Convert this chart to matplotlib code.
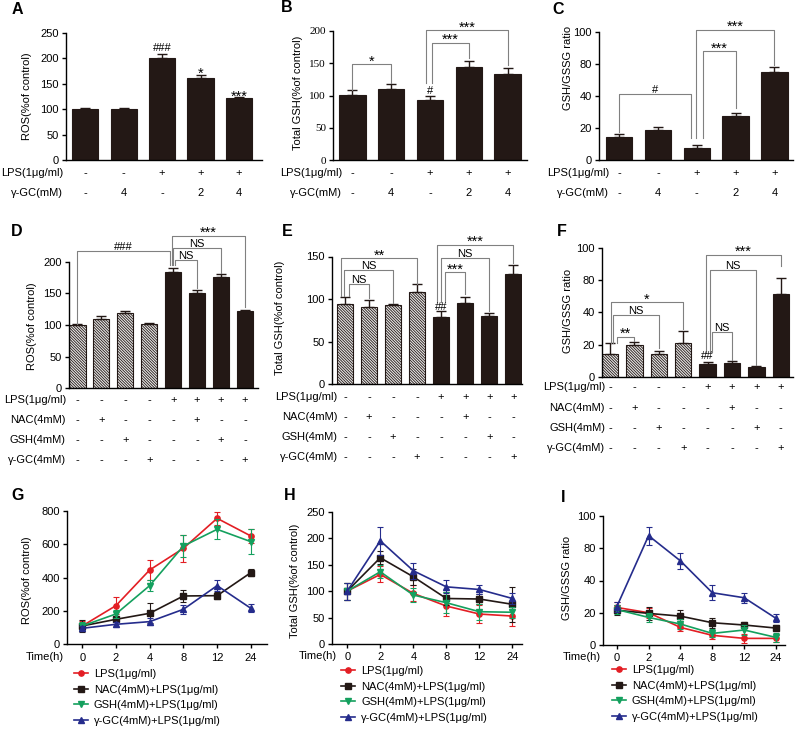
import numpy as np
import matplotlib
matplotlib.use('Agg')
import matplotlib.pyplot as plt
from matplotlib.transforms import blended_transform_factory

# ---- data ----
abc_lps = ['-', '-', '+', '+', '+']
abc_ggc = ['-', '4', '-', '2', '4']
a_ros = [100, 100, 200, 161, 122]
a_err = [1.5, 1.5, 9, 7, 2]
b_gsh = [101, 109.5, 93, 143.5, 133]
b_err = [7.5, 9, 7, 10, 9]
c_ratio = [14.6, 18.8, 7.7, 27.5, 69.6]
c_err = [1.7, 2, 1.7, 2, 7]

def_lps = ['-', '-', '-', '-', '+', '+', '+', '+']
def_nac = ['-', '+', '-', '-', '-', '+', '-', '-']
def_gsh = ['-', '-', '+', '-', '-', '-', '+', '-']
def_ggc = ['-', '-', '-', '+', '-', '-', '-', '+']
d_ros = [100, 109, 118.5, 101.5, 183, 150, 176, 122]
d_err = [1.5, 5, 3, 1, 7.5, 5, 4, 1]
e_gsh = [94, 91, 93, 108, 79, 95, 80.5, 130]
e_err = [8.5, 8.5, 1, 10, 7.5, 7, 3.5, 10]
f_ratio = [14.4, 19.8, 14.2, 20.8, 8.1, 8.5, 6, 63.4]
f_err = [6.4, 1.7, 1.8, 7.8, 1.3, 1, 0.8, 18]

time_labels = ['0', '2', '4', '8', '12', '24']
series_names = ['LPS(1μg/ml)', 'NAC(4mM)+LPS(1μg/ml)',
                'GSH(4mM)+LPS(1μg/ml)', 'γ-GC(4mM)+LPS(1μg/ml)']
g_lps = [110, 232, 446, 576, 756, 650]
g_lps_err = [30, 50, 60, 80, 40, 40]
g_nac = [110, 150, 186, 290, 292, 430]
g_nac_err = [35, 15, 60, 34, 20, 20]
g_gsh = [110, 182, 352, 590, 690, 616]
g_gsh_err = [25, 25, 35, 65, 60, 75]
g_ggc = [96, 120, 136, 210, 352, 216]
g_ggc_err = [15, 15, 20, 28, 35, 25]

h_lps = [100, 131.5, 95.6, 71.7, 56.6, 52.8]
h_lps_err = [16, 15, 15, 18, 17, 19]
h_nac = [100, 163, 127, 86, 85, 75]
h_nac_err = [16, 12, 15, 12, 10, 33]
h_gsh = [100, 136.5, 92.5, 78, 61, 60]
h_gsh_err = [16, 12, 13, 20, 15, 10]
h_ggc = [100, 195, 138.4, 108, 103, 86]
h_ggc_err = [16, 26, 15, 12, 8, 10]

i_lps = [23.3, 20, 10.9, 6, 4.1, 4.1]
i_lps_err = [3.5, 3, 2, 2, 3, 2]
i_nac = [21.6, 19.6, 17.9, 13.8, 12.4, 10.5]
i_nac_err = [3, 4, 4, 3, 2, 2]
i_gsh = [22, 17.1, 13, 7.2, 9.3, 4.7]
i_gsh_err = [3, 3, 3, 2.5, 3, 3]
i_ggc = [23.7, 87.8, 64.3, 32.4, 29.3, 16.5]
i_ggc_err = [3, 5.6, 10, 4.5, 3, 2.5]

# ---- style ----
plt.rcParams['font.family'] = ['Liberation Sans', 'DejaVu Sans']
plt.rcParams['font.size'] = 8
plt.rcParams['axes.linewidth'] = 1.0
plt.rcParams['hatch.linewidth'] = 0.6
DARK = '#231815'
GREY = '#808080'
COLORS = ['#e31e24', DARK, '#14a05e', '#252c8c']
MARKERS = ['o', 's', 'v', '^']

W, H = 796, 730
fig = plt.figure(figsize=(W / 100, H / 100), dpi=100)


def px_axes(x0, x1, ytop, ybot):
    ax = fig.add_axes([x0 / W, 1 - ybot / H, (x1 - x0) / W, (ybot - ytop) / H])
    ax.spines['top'].set_visible(False)
    ax.spines['right'].set_visible(False)
    ax.tick_params(axis='y', length=3, width=1, pad=2, labelsize=8)
    return ax


def fwd(v):
    v = np.asarray(v, float)
    return np.where(v <= 40, v, np.where(v <= 80, 40 + (v - 40) / 2, 60 + (v - 80)))


def inv(p):
    p = np.asarray(p, float)
    return np.where(p <= 40, p, np.where(p <= 60, 40 + (p - 40) * 2, 80 + (p - 60)))


def set_ylabel(ax, text, cx, frac, x0, x1):
    ax.set_ylabel(text, fontsize=8)
    ax.yaxis.label.set_verticalalignment('center')
    ax.yaxis.set_label_coords((cx - x0) / (x1 - x0), frac)


def panel_letter(s, x, y):
    fig.text(x / W, 1 - y / H, s, fontsize=11.5, fontweight='bold', ha='center', va='center')


def bar_panel(box, vals, errs, ylim, yticks, xlim, hatched=0, ratio=False):
    ax = px_axes(*box)
    if ratio:
        ax.set_yscale('function', functions=(fwd, inv))
    x = np.arange(len(vals))
    vals = np.asarray(vals)
    errs = np.asarray(errs)
    if hatched:
        ax.bar(x[:hatched], vals[:hatched], 0.68, color='#e8e8e8', edgecolor=DARK,
               hatch='\\' * 12, linewidth=0.8)
    ax.bar(x[hatched:], vals[hatched:], 0.68, color=DARK, edgecolor=DARK, linewidth=0.8)
    ax.errorbar(x, vals, yerr=[np.zeros(len(vals)), errs], fmt='none', ecolor=DARK,
                elinewidth=1, capsize=3.5, capthick=1)
    ax.set_ylim(*ylim)
    ax.set_yticks(yticks)
    ax.set_yticklabels([str(t) for t in yticks])
    ax.set_xlim(*xlim)
    ax.tick_params(axis='x', length=0, labelbottom=False)
    return ax


def rows(ax, names, table, ys, xr):
    tr = blended_transform_factory(ax.transData, fig.transFigure)
    for name, vals, y in zip(names, table, ys):
        fig.text(xr / W, 1 - y / H, name, ha='right', va='center', fontsize=8)
        for i, v in enumerate(vals):
            ax.text(i, 1 - y / H, v, transform=tr, ha='center', va='center', fontsize=8)


def label_at(ax, lab, x, y, off_px):
    star = '*' in lab
    ax.annotate(lab, (x, y), xytext=(0, (off_px - (2.5 if star else 0)) * 0.72),
                textcoords='offset points', ha='center', va='baseline',
                fontsize=10.5 if star else 8, annotation_clip=False)


def brackets(ax, specs):
    for xl, xr, top, yl, yr, lab in specs:
        ax.plot([xl, xl, xr, xr], [yl, top, top, yr], color=GREY, lw=0.8, clip_on=False)
        label_at(ax, lab, (xl + xr) / 2, top, 1)


def marks(ax, vals, errs, specs):
    for i, lab, off in specs:
        label_at(ax, lab, i, vals[i] + errs[i], off)


# ---- A ----
ax = bar_panel((66, 262, 33, 160), a_ros, a_err, (0, 250), [0, 50, 100, 150, 200, 250], (-0.5, 4.6))
set_ylabel(ax, 'ROS(%of control)', 27, 0.5, 66, 262)
rows(ax, ['LPS(1μg/ml)', 'γ-GC(mM)'], [abc_lps, abc_ggc], [173, 193], 63)
marks(ax, a_ros, a_err, [(2, '###', 3), (3, '*', -0.5), (4, '***', -1.5)])
panel_letter('A', 17, 10)

# ---- B ----
ax = bar_panel((333, 527, 31, 160), b_gsh, b_err, (0, 200), [0, 50, 100, 150, 200], (-0.5, 4.5))
for lab in ax.get_yticklabels():
    lab.set_fontfamily('Liberation Serif')
set_ylabel(ax, 'Total GSH(%of control)', 298, 0.52, 333, 527)
rows(ax, ['LPS(1μg/ml)', 'γ-GC(mM)'], [abc_lps, abc_ggc], [173, 193], 342)
brackets(ax, [(0, 1, 149, 108.5, 119.8, '*'), (2.06, 3, 182, 119, 157.6, '***'),
              (1.9, 4, 201.5, 119, 147, '***')])
marks(ax, b_gsh, b_err, [(2, '#', 2)])
panel_letter('B', 287, 8)

# ---- C ----
ax = bar_panel((599, 793, 31.7, 160), c_ratio, c_err, (0, 100), [0, 20, 40, 80, 100], (-0.52, 4.48), ratio=True)
set_ylabel(ax, 'GSH/GSSG ratio', 568, 0.72, 599, 793)
rows(ax, ['LPS(1μg/ml)', 'γ-GC(mM)'], [abc_lps, abc_ggc], [173, 193], 609)
brackets(ax, [(0, 1.85, 42, 17.7, 13.5, '#'), (2.15, 3, 87.7, 13.5, 32.3, '***'),
              (1.98, 4, 101.25, 13.5, 78.8, '***')])
panel_letter('C', 558, 10)

# ---- D ----
def_names = ['LPS(1μg/ml)', 'NAC(4mM)', 'GSH(4mM)', 'γ-GC(4mM)']
def_table = [def_lps, def_nac, def_gsh, def_ggc]
ax = bar_panel((69, 258, 261.7, 388.3), d_ros, d_err, (0, 200), [0, 50, 100, 150, 200], (-0.35, 7.54), hatched=4)
set_ylabel(ax, 'ROS(%of control)', 31.7, 0.49, 69, 258)
rows(ax, def_names, def_table, [400, 420, 440, 460], 66)
brackets(ax, [(0, 3.85, 217, 102, 195, '###'), (3.93, 7, 241, 195, 128, '***'),
              (4.0, 6, 222, 195, 182, 'NS'), (4.08, 5, 203, 195, 158, 'NS')])
panel_letter('D', 17, 232)

# ---- E ----
ax = bar_panel((331.7, 521.7, 256.5, 384.3), e_gsh, e_err, (0, 150), [0, 50, 100, 150], (-0.55, 7.35), hatched=4)
set_ylabel(ax, 'Total GSH(%of control)', 280, 0.52, 331.7, 521.7)
rows(ax, def_names, def_table, [396.7, 417.3, 436.7, 456.7], 337.7)
brackets(ax, [(-0.17, 3, 147.7, 104, 118, '**'), (-0.03, 2, 134, 104, 96, 'NS'),
              (0.17, 1, 118, 104, 101, 'NS'), (3.81, 7, 164, 97, 142, '***'),
              (3.99, 6, 147.7, 97, 86, 'NS'), (4.16, 5, 132, 97, 106, '***')])
marks(ax, e_gsh, e_err, [(4, '##', 0.5)])
panel_letter('E', 287, 232)

# ---- F ----
ax = bar_panel((601.7, 793, 248.3, 376.7), f_ratio, f_err, (0, 100), [0, 20, 40, 80, 100], (-0.34, 7.5),
               hatched=4, ratio=True)
set_ylabel(ax, 'GSH/GSSG ratio', 568, 0.51, 601.7, 793)
rows(ax, def_names, def_table, [386.7, 408.3, 428.3, 447.7], 605)
brackets(ax, [(0.03, 3, 53, 21, 30, '*'), (0.14, 2, 38.5, 21, 17.7, 'NS'),
              (0.27, 1, 25, 21, 22.5, '**'), (3.92, 7, 96, 15.6, 88.8, '***'),
              (4.1, 6, 86.7, 15.6, 7.5, 'NS'), (4.17, 5, 28, 15.6, 10.7, 'NS')])
marks(ax, f_ratio, f_err, [(4, '##', 3)])
panel_letter('F', 562, 232)


# ---- time courses ----
def line_panel(box, data, ylim, yticks, xlim, time_x, time_y, leg_x, leg_y, ratio=False):
    ax = px_axes(*box)
    if ratio:
        ax.set_yscale('function', functions=(fwd, inv))
    x = np.arange(len(time_labels))
    for (vals, errs), c, m, name in zip(data, COLORS, MARKERS, series_names):
        ax.errorbar(x, vals, yerr=errs, fmt='none', ecolor=c, elinewidth=0.8, capsize=2, capthick=0.8)
        ax.plot(x, vals, color=c, marker=m, ms=3.8, lw=1.2, label=name)
    ax.set_ylim(*ylim)
    ax.set_yticks(yticks)
    ax.set_yticklabels([str(t) for t in yticks])
    ax.set_xlim(*xlim)
    ax.set_xticks(x)
    ax.set_xticklabels(time_labels)
    ax.tick_params(axis='x', length=3, width=1, pad=3, labelsize=8)
    fig.text(time_x / W, 1 - time_y / H, 'Time(h)', ha='right', va='center', fontsize=8)
    ax.legend(loc='upper left', bbox_to_anchor=(leg_x / W, 1 - leg_y / H), bbox_transform=fig.transFigure,
              frameon=False, borderpad=0, borderaxespad=0, handlelength=1.3, handletextpad=0.5,
              labelspacing=0.5, fontsize=8, numpoints=1)
    return ax


ax = line_panel((66.7, 266.7, 511, 644.3),
                [(g_lps, g_lps_err), (g_nac, g_nac_err), (g_gsh, g_gsh_err), (g_ggc, g_ggc_err)],
                (0, 800), [0, 200, 400, 600, 800], (-0.46, 5.47), 64, 657, 74, 669)
set_ylabel(ax, 'ROS(%of control)', 26.7, 0.48, 66.7, 266.7)
panel_letter('G', 18, 495)

ax = line_panel((331.7, 521.7, 511.7, 644),
                [(h_lps, h_lps_err), (h_nac, h_nac_err), (h_gsh, h_gsh_err), (h_ggc, h_ggc_err)],
                (0, 250), [0, 50, 100, 150, 200, 250], (-0.47, 5.28), 337, 656, 341, 666)
set_ylabel(ax, 'Total GSH(%of control)', 295, 0.48, 331.7, 521.7)
panel_letter('H', 290, 495)

ax = line_panel((602.7, 785, 516, 645),
                [(i_lps, i_lps_err), (i_nac, i_nac_err), (i_gsh, i_gsh_err), (i_ggc, i_ggc_err)],
                (0, 100), [0, 20, 40, 80, 100], (-0.44, 5.28), 601, 656.7, 611.7, 665, ratio=True)
set_ylabel(ax, 'GSH/GSSG ratio', 566.7, 0.52, 602.7, 785)
panel_letter('I', 563, 498)

fig.savefig('out.png', dpi=100)
